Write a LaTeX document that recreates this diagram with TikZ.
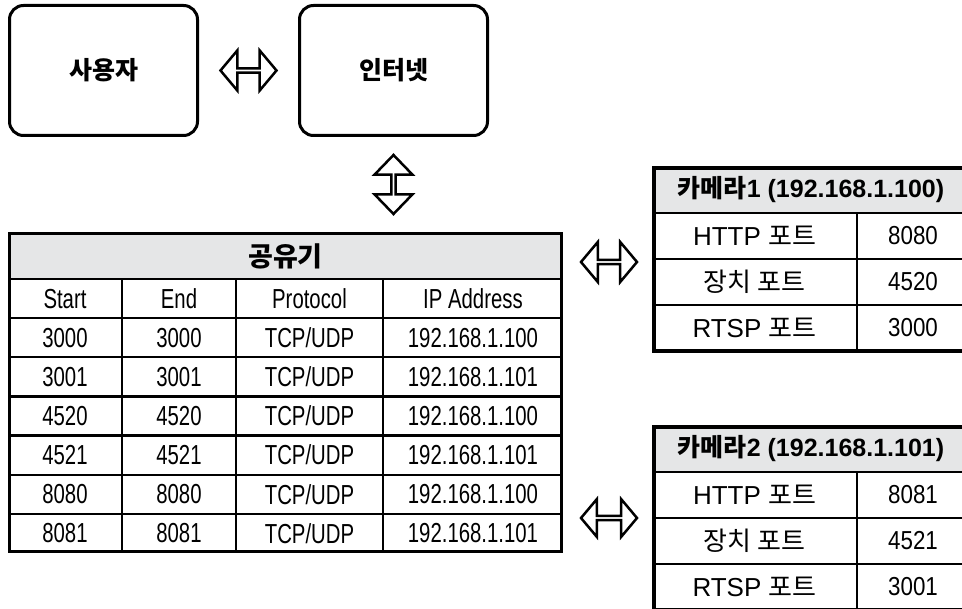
\documentclass[tikz,border=0pt]{standalone}
\usepackage{fontspec}
\setmainfont{Liberation Sans}
\newfontfamily\krfont{Noto Sans CJK KR}
\newfontfamily\condfont[FakeStretch=0.74]{Liberation Sans}
\newfontfamily\numfont[FakeStretch=0.86]{Liberation Sans}
\usetikzlibrary{calc,shapes.arrows}
\definecolor{headgray}{RGB}{229,230,231}

\begin{document}
\begin{tikzpicture}[x=1pt, y=-1pt,
    box/.style={draw, line width=3pt, rounded corners=14pt, minimum width=188pt, minimum height=130pt,
        font=\krfont\bfseries\fontsize{25}{28}\selectfont},
    blockarrow/.style={double arrow, draw, line width=2.5pt, fill=white, inner sep=0pt,
        double arrow head extend=10pt, double arrow tip angle=100, minimum height=56pt, minimum width=40pt},
    cell/.style={font=\condfont\fontsize{27.5}{30}\selectfont, inner sep=0pt},
    camcell/.style={font=\fontsize{26}{29}\selectfont, inner sep=0pt},
    headtxt/.style={font=\krfont\bfseries\fontsize{25}{28}\selectfont, inner sep=0pt},
    outer/.style={line width=3.5pt},
    grid/.style={line width=2.2pt}]
    \useasboundingbox (0,0) rectangle (962,609);

    % --- 1. Parameters ---
    \def\rL{9.5}    % router table
    \def\rR{561.5}
    \def\rT{233.5}
    \def\rH{279}
    \def\rowH{39.14}
    \def\cL{654}    % camera tables
    \def\cR{970}
    \def\tu{TCP/UDP}

    % --- 2. User and internet ---
    \node[box] (user) at (103.5,70.5) {사용자};
    \node[box] (net) at (393.5,70.5) {인터넷};
    \node[blockarrow] (a1) at ($(user.east)!0.5!(net.west)$) {};
    \node[blockarrow, shape border rotate=90, minimum height=59pt, minimum width=38pt,
        double arrow head extend=10.5pt, double arrow tip angle=88] (a2) at ($(net.south)+(0,47.5)$) {};

    % --- 3. Router table ---
    \fill[headgray] (\rL,\rT) rectangle (\rR,\rH);
    \node[headtxt, font=\krfont\bfseries\fontsize{27}{30}\selectfont] (rtr) at ({(\rL+\rR)/2},{(\rT+\rH)/2}) {공유기};
    \foreach \i in {1,...,6}
        \draw[grid] (\rL,{\rH+\rowH*\i}) -- (\rR,{\rH+\rowH*\i});
    \draw[grid] (\rL,\rH) -- (\rR,\rH);
    \foreach \x in {122,236,383}
        \draw[grid] (\x,\rH) -- (\x,551.5);
    \draw[outer] (\rL,\rT) rectangle (\rR,551.5);
    \foreach \a/\b/\c/\d [count=\i from 0] in {Start/End/Protocol/IP Address,
            3000/3000/\tu/192.168.1.100, 3001/3001/\tu/192.168.1.101,
            4520/4520/\tu/192.168.1.100, 4521/4521/\tu/192.168.1.101,
            8080/8080/\tu/192.168.1.100, 8081/8081/\tu/192.168.1.101}{
        \node[cell] (r\i-a) at (65,{\rH+\rowH*(\i+0.5)}) {\a};
        \node[cell] (r\i-b) at (179,{\rH+\rowH*(\i+0.5)}) {\b};
        \node[cell] (r\i-c) at (309.5,{\rH+\rowH*(\i+0.5)}) {\c};
        \node[cell] (r\i-d) at (473,{\rH+\rowH*(\i+0.5)}) {\d};
    }

    % --- 4. Camera tables ---
    \foreach \cy/\ttl/\pa/\pb/\pc [count=\k] in {168/1 (192.168.1.100)/8080/4520/3000,
            427/2 (192.168.1.101)/8081/4521/3001}{
        \fill[headgray] (\cL,\cy) rectangle (\cR,\cy+45);
        \node[headtxt] (cam\k) at (811,\cy+22) {카메라{\normalfont\bfseries\ttl}};
        \foreach \j in {0,1,2}
            \draw[grid] (\cL,{\cy+45+46*\j}) -- (\cR,{\cy+45+46*\j});
        \draw[grid] (857,\cy+45) -- (857,\cy+183);
        \draw[outer] (\cL,\cy) rectangle (\cR,\cy+183);
        \node[camcell] (cam\k-ha) at (754.5,\cy+68) {HTTP {\krfont 포트}};
        \node[camcell, font=\numfont\fontsize{26}{29}\selectfont] (cam\k-hb) at (913,\cy+68) {\pa};
        \node[camcell] (cam\k-da) at (754.5,\cy+114) {\krfont 장치 포트};
        \node[camcell, font=\numfont\fontsize{26}{29}\selectfont] (cam\k-db) at (913,\cy+114) {\pb};
        \node[camcell] (cam\k-ra) at (754.5,\cy+160) {RTSP {\krfont 포트}};
        \node[camcell, font=\numfont\fontsize{26}{29}\selectfont] (cam\k-rb) at (913,\cy+160) {\pc};
    }

    % --- 5. Links to cameras ---
    \node[blockarrow] (a3) at (609,262) {};
    \node[blockarrow, minimum width=38pt] (a4) at (609,518) {};
\end{tikzpicture}
\end{document}
